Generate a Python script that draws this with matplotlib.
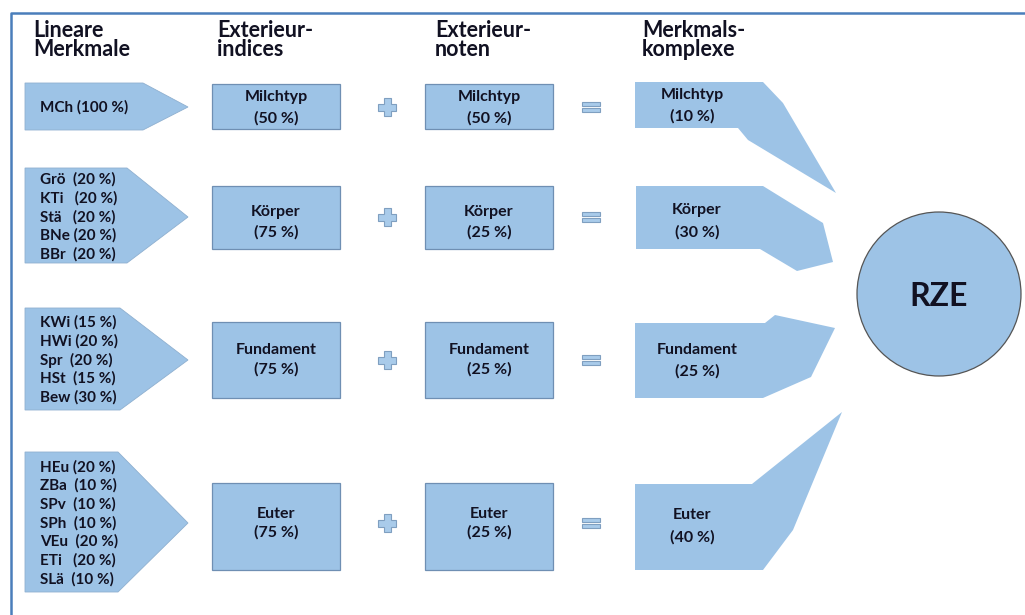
import matplotlib
matplotlib.use("Agg")
import matplotlib.pyplot as plt
from matplotlib.patches import Polygon, Rectangle, Circle

plt.rcParams['font.family'] = ['Lato', 'DejaVu Sans']

# Inhalte
headers = ["Lineare\nMerkmale", "Exterieur-\nindices", "Exterieur-\nnoten", "Merkmals-\nkomplexe"]
complexes = ["Milchtyp", "Körper", "Fundament", "Euter"]
linear_traits = [
    ["MCh (100 %)"],
    ["Grö  (20 %)", "KTi   (20 %)", "Stä   (20 %)", "BNe (20 %)", "BBr  (20 %)"],
    ["KWi (15 %)", "HWi (20 %)", "Spr  (20 %)", "HSt  (15 %)", "Bew (30 %)"],
    ["HEu (20 %)", "ZBa  (10 %)", "SPv  (10 %)", "SPh  (10 %)", "VEu  (20 %)", "ETi   (20 %)", "SLä  (10 %)"],
]
index_share = [50, 75, 75, 75]
noten_share = [50, 25, 25, 25]
rze_share = [10, 30, 25, 40]
result = "RZE"

# Layout (Pixel)
fill = '#9dc3e6'
edge = '#6f8fb3'
ink = '#111122'
row_y = [107, 217, 360, 523]
pent = [(83, 130, 143), (168, 263, 127), (308, 410, 120), (452, 592, 118)]
box_h = [(84, 129), (186, 249), (322, 398), (483, 570)]
box_text_y = [(97, 118), (212, 232), (350, 369), (514, 532)]
complex_shapes = [
    [(635, 82), (763, 82), (783, 103), (836, 193), (748, 140), (738, 128), (635, 128)],
    [(636, 186), (763, 186), (823, 223), (833, 262), (797, 271), (760, 249), (636, 249)],
    [(635, 323), (765, 323), (775, 315), (835, 328), (811, 377), (763, 398), (635, 398)],
    [(635, 484), (752, 484), (842, 412), (793, 530), (763, 570), (635, 570)],
]
complex_text = [(692, 95, 116), (697, 210, 232), (697, 350, 371), (692, 515, 537)]

fig = plt.figure(figsize=(10.25, 6.15), dpi=100)
ax = fig.add_axes([0, 0, 1, 1])
ax.set_xlim(0, 1025)
ax.set_ylim(615, 0)
ax.axis('off')

# Rahmen
ax.plot([11, 11, 1025], [615, 13, 13], color='#4a7ebb', lw=1.8)

# Überschriften
for x, h in zip([33, 217, 435, 642], headers):
    ax.text(x, 40, h, fontsize=15.5, fontweight='bold', va='center', ha='left',
            color=ink, linespacing=0.85)

for i in range(4):
    cy = row_y[i]
    top, bot, xe = pent[i]
    ax.add_patch(Polygon([(25, top), (xe, top), (188, cy), (xe, bot), (25, bot)],
                         closed=True, fc=fill, ec='#8fb0d0', lw=0.6))
    n = len(linear_traits[i])
    step = 18.7
    y0 = cy - step * (n - 1) / 2
    for k, t in enumerate(linear_traits[i]):
        ax.text(40, y0 + k * step, t, fontsize=11, fontweight='bold',
                va='center', ha='left', color=ink)

    t0, t1 = box_h[i]
    ya, yb = box_text_y[i]
    for bx, share in [(212, index_share[i]), (425, noten_share[i])]:
        ax.add_patch(Rectangle((bx, t0), 128, t1 - t0, fc=fill, ec=edge, lw=0.9))
        ax.text(bx + 64, ya, complexes[i], fontsize=11.5, fontweight='bold',
                ha='center', va='center', color=ink)
        ax.text(bx + 64, yb, f"({share} %)", fontsize=11.5, fontweight='bold',
                ha='center', va='center', color=ink)

    # Plus
    px, a, w = 387, 9, 3.5
    ax.add_patch(Polygon([(px - w, cy - a), (px + w, cy - a), (px + w, cy - w), (px + a, cy - w),
                          (px + a, cy + w), (px + w, cy + w), (px + w, cy + a), (px - w, cy + a),
                          (px - w, cy + w), (px - a, cy + w), (px - a, cy - w), (px - w, cy - w)],
                         closed=True, fc='#a9cbea', ec='#7f9fc0', lw=0.8))
    # Gleich
    ax.add_patch(Rectangle((582, cy - 5), 18, 4, fc='#a9cbea', ec='#7f9fc0', lw=0.8))
    ax.add_patch(Rectangle((582, cy + 1), 18, 4, fc='#a9cbea', ec='#7f9fc0', lw=0.8))

    ax.add_patch(Polygon(complex_shapes[i], closed=True, fc=fill, ec='none'))
    tx, ta, tb = complex_text[i]
    ax.text(tx, ta, complexes[i], fontsize=11.5, fontweight='bold',
            ha='center', va='center', color=ink)
    ax.text(tx, tb, f"({rze_share[i]} %)", fontsize=11.5, fontweight='bold',
            ha='center', va='center', color=ink)

ax.add_patch(Circle((939, 294), 82, fc=fill, ec='#555555', lw=0.9))
ax.text(939, 296, result, fontsize=23, fontweight='bold', ha='center', va='center',
        color=ink)

fig.savefig('out.png', dpi=100)
